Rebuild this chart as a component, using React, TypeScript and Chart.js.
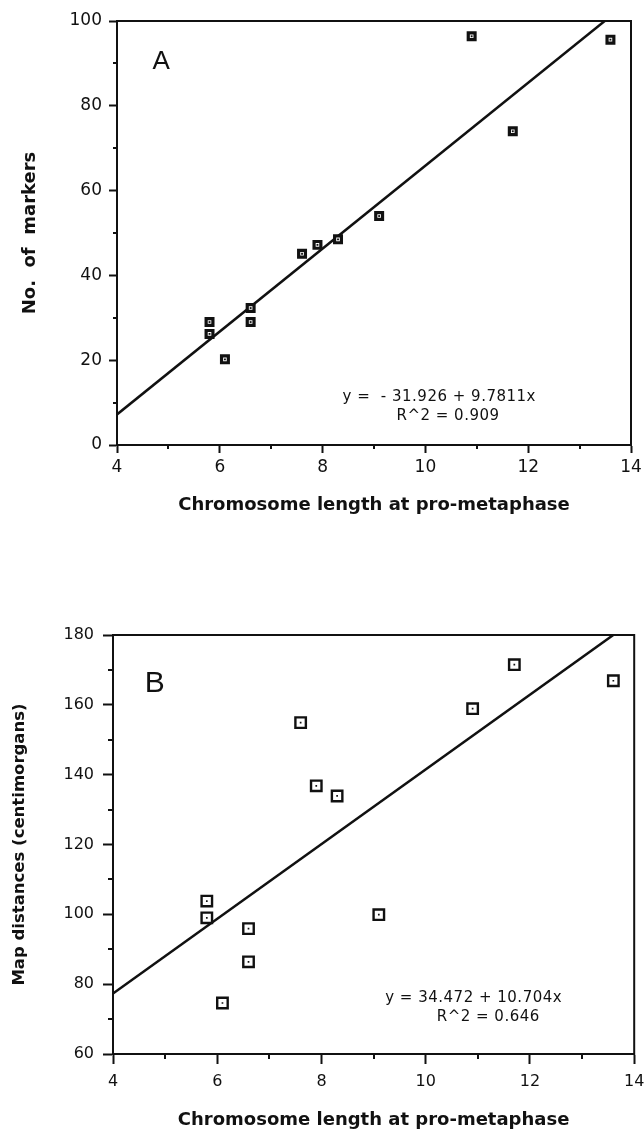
import React, { useEffect, useRef } from "react";
import { Chart, registerables } from "chart.js";

Chart.register(...registerables);

// ---------- data ----------
const lengthA = [5.8, 5.8, 6.1, 6.6, 6.6, 7.6, 7.9, 8.3, 9.1, 10.9, 11.7, 13.6];
const markersA = [29.0, 26.2, 20.2, 32.3, 29.0, 45.1, 47.2, 48.5, 54.0, 96.4, 74.0, 95.6];
const fitXA = [4, 14];
const fitYA = [7.2, 105.0];

const lengthB = [5.8, 5.8, 6.1, 6.6, 6.6, 7.6, 7.9, 8.3, 9.1, 10.9, 11.7, 13.6];
const mapDistB = [103.8, 99.0, 74.6, 95.9, 86.4, 154.9, 136.8, 133.9, 99.9, 158.9, 171.5, 166.9];
const fitXB = [4, 14];
const fitYB = [77.3, 184.3];

const xTicks = [4, 6, 8, 10, 12, 14];
const xMinorTicks = [5, 7, 9, 11, 13];
const yTicksA = [0, 20, 40, 60, 80, 100];
const yMinorTicksA = [10, 30, 50, 70, 90];
const yTicksB = [60, 80, 100, 120, 140, 160, 180];
const yMinorTicksB = [70, 90, 110, 130, 150, 170];

const xTitle = "Chromosome length at pro-metaphase";
const yTitleA = "No.  of  markers";
const yTitleB = "Map distances (centimorgans)";
const eqA = ["y =  - 31.926 + 9.7811x", "R^2 = 0.909"];
const eqB = ["y = 34.472 + 10.704x", "R^2 = 0.646"];

// ---------- helpers ----------
const TICK_FONT = "'DejaVu Sans', sans-serif";
const TITLE_FONT = "'DejaVu Sans', sans-serif";
const LETTER_FONT = "'Liberation Sans Narrow', 'Liberation Sans', sans-serif";

const extrasPlugin = {
  id: "extras",
  afterDraw(chart: any, _args: any, opts: any) {
    const { ctx, chartArea } = chart;
    const xs = chart.scales.x;
    const ys = chart.scales.y;
    ctx.save();
    ctx.strokeStyle = "#111";
    ctx.lineWidth = 2;
    // frame: top and right
    ctx.beginPath();
    ctx.moveTo(chartArea.left - 1, chartArea.top);
    ctx.lineTo(chartArea.right, chartArea.top);
    ctx.lineTo(chartArea.right, chartArea.bottom + 1);
    ctx.stroke();
    // minor ticks
    ctx.lineWidth = 2;
    ctx.beginPath();
    for (const v of opts.xMinor) {
      const px = Math.round(xs.getPixelForValue(v));
      ctx.moveTo(px, chartArea.bottom);
      ctx.lineTo(px, chartArea.bottom + opts.minorLen);
    }
    for (const v of opts.yMinor) {
      const py = Math.round(ys.getPixelForValue(v));
      ctx.moveTo(chartArea.left, py);
      ctx.lineTo(chartArea.left - opts.minorLen, py);
    }
    ctx.stroke();
    // texts
    ctx.fillStyle = "#111";
    ctx.textBaseline = "middle";
    for (const t of opts.texts) {
      ctx.font = t.font;
      ctx.textAlign = t.align || "center";
      if ("letterSpacing" in ctx) (ctx as any).letterSpacing = t.spacing || "0px";
      ctx.fillText(t.text, xs.getPixelForValue(t.x), ys.getPixelForValue(t.y));
    }
    if ("letterSpacing" in ctx) (ctx as any).letterSpacing = "0px";
    ctx.restore();
  },
};

type Spec = {
  xs: number[];
  ys: number[];
  fitX: number[];
  fitY: number[];
  yTicks: number[];
  yMinor: number[];
  yMin: number;
  yMax: number;
  yTitle: string;
  yTitleSize: number;
  pad: { right: number; top: number };
  yAxisWidth: number;
  xAxisHeight: number;
  majorTick: number;
  minorLen: number;
  xLabelPad: number;
  yLabelPad: number;
  tickSize: number;
  yTitlePadTop: number;
  xTitlePadBottom: number;
  pointRadius: number;
  pointBorder: number;
  dotRadius: number;
  texts: any[];
};

function makeConfig(s: Spec): any {
  const pts = s.xs.map((x, i) => ({ x, y: s.ys[i] }));
  const line = s.fitX.map((x, i) => ({ x, y: s.fitY[i] }));
  return {
    type: "scatter",
    data: {
      datasets: [
        {
          data: pts,
          pointStyle: "rect",
          pointRadius: s.dotRadius,
          pointBorderWidth: 0,
          pointBackgroundColor: "#111",
          borderWidth: 0,
          backgroundColor: "#111",
        },
        {
          data: pts,
          pointStyle: "rect",
          pointRadius: s.pointRadius,
          pointBorderWidth: s.pointBorder,
          pointBorderColor: "#111",
          pointBackgroundColor: "#fff",
        },
        {
          data: line,
          showLine: true,
          borderColor: "#111",
          borderWidth: 2.5,
          pointRadius: 0,
          fill: false,
        },
      ],
    },
    options: {
      responsive: false,
      animation: false,
      events: [],
      devicePixelRatio: 1,
      layout: { padding: { left: 0, right: s.pad.right, top: s.pad.top, bottom: 0 } },
      plugins: {
        legend: { display: false },
        tooltip: { enabled: false },
        extras: {
          xMinor: xMinorTicks,
          yMinor: s.yMinor,
          minorLen: s.minorLen,
          texts: s.texts,
        },
      },
      scales: {
        x: {
          type: "linear",
          min: 4,
          max: 14,
          afterBuildTicks: (sc: any) => {
            sc.ticks = xTicks.map((v) => ({ value: v }));
          },
          afterFit: (sc: any) => {
            sc.height = s.xAxisHeight;
            sc.paddingLeft = 0;
            sc.paddingRight = 0;
          },
          grid: {
            drawOnChartArea: false,
            drawTicks: true,
            tickLength: s.majorTick,
            tickWidth: 2,
            tickColor: "#111",
          },
          border: { display: true, color: "#111", width: 2 },
          ticks: {
            color: "#111",
            font: { family: TICK_FONT, size: s.tickSize },
            padding: s.xLabelPad,
            maxRotation: 0,
            autoSkip: false,
          },
          title: {
            display: true,
            text: xTitle,
            color: "#111",
            font: { family: TITLE_FONT, size: 18, weight: "bold", lineHeight: 1 },
            padding: { top: 0, bottom: s.xTitlePadBottom },
          },
        },
        y: {
          type: "linear",
          min: s.yMin,
          max: s.yMax,
          afterBuildTicks: (sc: any) => {
            sc.ticks = s.yTicks.map((v) => ({ value: v }));
          },
          afterFit: (sc: any) => {
            sc.width = s.yAxisWidth;
            sc.paddingTop = 0;
            sc.paddingBottom = 0;
          },
          grid: {
            drawOnChartArea: false,
            drawTicks: true,
            tickLength: s.majorTick,
            tickWidth: 2,
            tickColor: "#111",
          },
          border: { display: true, color: "#111", width: 2 },
          ticks: {
            color: "#111",
            font: { family: TICK_FONT, size: s.tickSize },
            padding: s.yLabelPad,
            autoSkip: false,
          },
          title: {
            display: true,
            text: s.yTitle,
            color: "#111",
            font: { family: TITLE_FONT, size: s.yTitleSize, weight: "bold", lineHeight: 1 },
            padding: { top: s.yTitlePadTop, bottom: 0 },
          },
        },
      },
    },
    plugins: [extrasPlugin],
  };
}

function Panel({ spec, top, height }: { spec: Spec; top: number; height: number }) {
  const ref = useRef<HTMLCanvasElement>(null);
  useEffect(() => {
    const chart = new Chart(ref.current as HTMLCanvasElement, makeConfig(spec));
    return () => chart.destroy();
  }, []);
  return (
    <div style={{ position: "absolute", left: 0, top, width: 644, height }}>
      <canvas ref={ref} width={644} height={height} style={{ display: "block" }} />
    </div>
  );
}

const specA: Spec = {
  xs: lengthA,
  ys: markersA,
  fitX: fitXA,
  fitY: fitYA,
  yTicks: yTicksA,
  yMinor: yMinorTicksA,
  yMin: 0,
  yMax: 100,
  yTitle: yTitleA,
  yTitleSize: 18,
  pad: { right: 13, top: 21 },
  yAxisWidth: 117,
  xAxisHeight: 95,
  majorTick: 8,
  minorLen: 4,
  xLabelPad: 4,
  yLabelPad: 7,
  tickSize: 17,
  yTitlePadTop: 21,
  xTitlePadBottom: 26,
  pointRadius: 4.8,
  pointBorder: 3.2,
  dotRadius: 1.3,
  texts: [
    { text: "A", x: 4.86, y: 90.3, font: `26px ${LETTER_FONT}` },
    { text: eqA[0], x: 10.27, y: 11.2, font: `15px ${TICK_FONT}`, spacing: "0.5px" },
    { text: eqA[1], x: 10.44, y: 6.84, font: `15px ${TICK_FONT}`, spacing: "0.5px" },
  ],
};

const specB: Spec = {
  xs: lengthB,
  ys: mapDistB,
  fitX: fitXB,
  fitY: fitYB,
  yTicks: yTicksB,
  yMinor: yMinorTicksB,
  yMin: 60,
  yMax: 180,
  yTitle: yTitleB,
  yTitleSize: 16.5,
  pad: { right: 6, top: 75 },
  yAxisWidth: 113,
  xAxisHeight: 76,
  majorTick: 10,
  minorLen: 5,
  xLabelPad: 8,
  yLabelPad: 9,
  tickSize: 16,
  yTitlePadTop: 11,
  xTitlePadBottom: 1,
  pointRadius: 7.4,
  pointBorder: 2.4,
  dotRadius: 1.2,
  texts: [
    { text: "B", x: 4.8, y: 166.0, font: `30px ${LETTER_FONT}` },
    { text: eqB[0], x: 10.92, y: 76.0, font: `15px ${TICK_FONT}`, spacing: "0.5px" },
    { text: eqB[1], x: 11.2, y: 70.6, font: `15px ${TICK_FONT}`, spacing: "0.5px" },
  ],
};

export default function App() {
  return (
    <div style={{ position: "absolute", left: 0, top: 0, width: 644, height: 1130, overflow: "hidden" }}>
      <Panel spec={specA} top={0} height={540} />
      <Panel spec={specB} top={560} height={570} />
    </div>
  );
}
